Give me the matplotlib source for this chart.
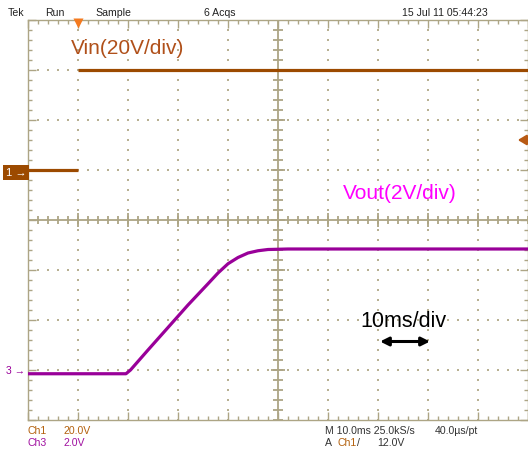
import numpy as np
import matplotlib.pyplot as plt
from matplotlib import transforms

plt.rcParams['font.family'] = ['Liberation Sans', 'DejaVu Sans']

# time axis in ms, trigger at t = 0
vin_t = [-10, 0, np.nan, 0, 90]
vin_v = [0, 0, np.nan, 40, 40]          # volts, Ch1 (20 V/div)

vout_t = [-10, 9.6, 10.5, 14, 18, 22, 26, 28, 30, 32, 34, 36, 38, 42, 90]
vout_v = [-0.15, -0.15, 0.0, 0.8, 1.7, 2.6, 3.45, 3.88, 4.25, 4.5, 4.68, 4.77, 4.82, 4.84, 4.84]  # Ch3 (2 V/div)

ch1_scale, ch1_offset = 20.0, 1.0   # V/div, div
ch3_scale, ch3_offset = 2.0, -3.0
trig_level = 12.0

GRID = '#ada585'
C_VIN = '#9c4a00'
C_VOUT = '#990099'

W, H = 528, 459
fig = plt.figure(figsize=(W / 100, H / 100), dpi=100)
ax = fig.add_axes([28 / W, 1 - 420 / H, 500 / W, 400 / H])
ax.set_xlim(-10, 90)
ax.set_ylim(-4, 4)


def px(x, y):
    return x / W, 1 - y / H


# frame + ticks
for s in ax.spines.values():
    s.set_color(GRID)
    s.set_linewidth(1.0)
ax.set_xticks(np.arange(-10, 91, 10))
ax.set_xticks(np.arange(-10, 91, 2), minor=True)
ax.set_yticks(np.arange(-4, 5, 1))
ax.set_yticks(np.arange(-4, 4.01, 0.2), minor=True)
ax.tick_params(which='both', direction='in', color=GRID, width=1.0,
               top=True, right=True, labelleft=False, labelbottom=False)
ax.tick_params(which='major', length=5.5)
ax.tick_params(which='minor', length=3)

# dotted graticule
for xv in np.arange(0, 81, 10):
    if xv == 40:
        continue
    yy = np.arange(-4, 4.01, 0.2)
    ax.scatter(np.full_like(yy, xv), yy, s=0.8, marker='s', color='#b8b092', lw=0, zorder=1)
for yv in [-3, -2, -1, 1, 2, 3]:
    xx = np.arange(-10, 90.01, 2)
    ax.scatter(xx, np.full_like(xx, yv), s=0.8, marker='s', color='#b8b092', lw=0, zorder=1)

# center cross with ticks
ax.axhline(0, color=GRID, lw=1.3, zorder=1)
ax.axvline(40, color=GRID, lw=1.3, zorder=1)
xt = np.arange(-10, 90.01, 2)
ax.plot(xt, np.zeros_like(xt), ls='none', marker='|', ms=6, mew=1.3, color=GRID, zorder=1)
xt = np.arange(0, 81, 10)
ax.plot(xt, np.zeros_like(xt), ls='none', marker='|', ms=10, mew=1.3, color=GRID, zorder=1)
yt = np.arange(-4, 4.01, 0.2)
ax.plot(np.full_like(yt, 40), yt, ls='none', marker='_', ms=6.5, mew=1.3, color=GRID, zorder=1)
yt = np.arange(-3, 4, 1)
ax.plot(np.full_like(yt, 40), yt, ls='none', marker='_', ms=10, mew=1.3, color=GRID, zorder=1)

# traces
ax.plot(vin_t, np.array(vin_v) / ch1_scale + ch1_offset, color=C_VIN, lw=2.3,
        solid_capstyle='butt', zorder=3)
ax.plot(vout_t, np.array(vout_v) / ch3_scale + ch3_offset, color=C_VOUT, lw=2.3, zorder=3)

# trigger position marker (top) and trigger level marker (right)
off = transforms.ScaledTranslation(0, -2 / 72, fig.dpi_scale_trans)
ax.plot(0, 4, marker='v', ms=7, color='#f47a1f', mec='none', clip_on=False,
        transform=ax.transData + off, zorder=5)
blend = transforms.blended_transform_factory(ax.transAxes, ax.transData)
ax.annotate('', xy=(0.974, trig_level / ch1_scale + ch1_offset), xycoords=blend,
            xytext=(1.0, trig_level / ch1_scale + ch1_offset), textcoords=blend,
            arrowprops=dict(arrowstyle='-|>,head_length=0.5,head_width=0.3',
                            color='#b85a14', lw=1.6), annotation_clip=False)

# channel ground markers
ax.text(-0.003, ch1_offset - 0.05, '1 \u2192', transform=blend, ha='right', va='center',
        color='white', fontsize=8, clip_on=False,
        bbox=dict(boxstyle='square,pad=0.25', fc=C_VIN, ec='none'))
ax.text(-0.005, ch3_offset - 0.02, '3 \u2192', transform=blend, ha='right', va='center',
        color=C_VOUT, fontsize=7.5, clip_on=False)

# annotations
fig.text(*px(71, 54), 'Vin(20V/div)', color='#b0501a', fontsize=15, va='baseline')
fig.text(*px(343, 199), 'Vout(2V/div)', color='#ff00ff', fontsize=15, va='baseline')
fig.text(*px(360, 327), '10ms/div', color='black', fontsize=15.5, va='baseline')
ax.annotate('', xy=(70.4, -2.43), xytext=(60.4, -2.43),
            arrowprops=dict(arrowstyle='<|-|>,head_length=0.5,head_width=0.25',
                            color='black', lw=2.2, shrinkA=0, shrinkB=0))

# header
hdr = dict(fontsize=7.6, color='#222222', va='baseline')
fig.text(*px(8, 15.5), 'Tek', **hdr)
fig.text(*px(45, 15.5), 'Run', **hdr)
fig.text(*px(95, 15.5), 'Sample', **hdr)
fig.text(*px(204, 15.5), '6 Acqs', **hdr)
fig.text(*px(402, 15.5), '15 Jul 11 05:44:23', **hdr)

# footer
ftr = dict(fontsize=7.6, va='baseline')
fig.text(*px(28, 434), 'Ch1', color='#b3600c', **ftr)
fig.text(*px(64, 434), '20.0V', color='#b3600c', **ftr)
fig.text(*px(28, 446.5), 'Ch3', color='#a010a0', **ftr)
fig.text(*px(64, 446.5), '2.0V', color='#a010a0', **ftr)
fig.text(*px(325, 434), 'M 10.0ms 25.0kS/s', color='#333333', **ftr)
fig.text(*px(435, 434), '40.0\u00b5s/pt', color='#333333', **ftr)
fig.text(*px(325, 446.5), 'A', color='#333333', **ftr)
fig.text(*px(338, 446.5), 'Ch1', color='#b3600c', **ftr)
fig.text(*px(357, 446.5), '/', color='#333333', **ftr)
fig.text(*px(377, 446.5), '12.0V', color='#333333', **ftr)

fig.savefig('out.png', dpi=100)
